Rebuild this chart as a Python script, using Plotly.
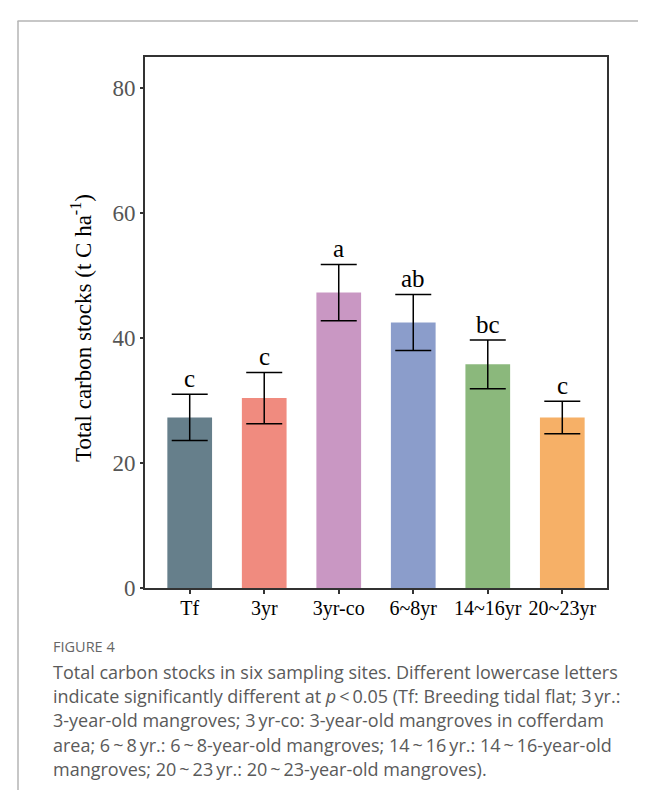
import plotly.graph_objects as go

categories = ["Tf", "3yr", "3yr-co", "6~8yr", "14~16yr", "20~23yr"]
means = [27.3, 30.4, 47.3, 42.5, 35.8, 27.3]
errors = [3.7, 4.1, 4.5, 4.5, 3.9, 2.6]
letters = ["c", "c", "a", "ab", "bc", "c"]
colors = ["#667f8b", "#f08b7f", "#c997c3", "#8b9dcb", "#8bb87c", "#f6b067"]
y_ticks = [0, 20, 40, 60, 80]

caption_title = "FIGURE 4"
caption_lines = [
    "Total carbon stocks in six sampling sites. Different lowercase letters",
    "indicate significantly different at <i>p</i>\u2009<\u20090.05 (Tf: Breeding tidal flat; 3\u2009yr.:",
    "3-year-old mangroves; 3\u2009yr-co: 3-year-old mangroves in cofferdam",
    "area; 6\u2009~\u20098\u2009yr.: 6\u2009~\u20098-year-old mangroves; 14\u2009~\u200916\u2009yr.: 14\u2009~\u200916-year-old",
    "mangroves; 20\u2009~\u200923\u2009yr.: 20\u2009~\u200923-year-old mangroves).",
]

W, H = 646, 790
L, R, T, B = 137, 599, 49, 580

def px(x):
    return (x - L) / (R - L)

def py(y):
    return (B - y) / (B - T)

fig = go.Figure()
fig.add_trace(go.Bar(
    x=categories, y=means, width=0.6,
    marker=dict(color=colors, line=dict(width=0)),
    error_y=dict(type="data", array=errors, visible=True,
                 color="black", thickness=1.5, width=18),
    showlegend=False,
))

for c, m, e, t in zip(categories, means, errors, letters):
    fig.add_annotation(x=c, y=m + e, text=t, showarrow=False,
                       yanchor="bottom", yshift=0,
                       font=dict(family="Liberation Serif", size=25, color="black"))

fig.add_annotation(xref="paper", yref="paper", x=px(73), y=py(320),
                   text="Total carbon stocks (t C ha<sup>-1</sup>)", textangle=-90,
                   showarrow=False, xanchor="center", yanchor="middle",
                   font=dict(family="Liberation Serif", size=23, color="black"))

x_cap = 43
fig.add_annotation(xref="paper", yref="paper", x=px(x_cap), y=py(638),
                   text=caption_title, showarrow=False, xanchor="left", yanchor="middle",
                   font=dict(family="Open Sans", size=14.5, color="#666666"))
for i, line in enumerate(caption_lines):
    fig.add_annotation(xref="paper", yref="paper", x=px(x_cap), y=py(664 + 24.2 * i),
                       text=line, showarrow=False, xanchor="left", yanchor="middle",
                       font=dict(family="Open Sans", size=18, color="#5a5a5a"))

# page frame lines
fig.add_shape(type="line", xref="paper", yref="paper",
              x0=px(9.5), x1=px(646), y0=py(13), y1=py(13),
              line=dict(color="#b5b5b5", width=1.5))
fig.add_shape(type="line", xref="paper", yref="paper",
              x0=px(10), x1=px(10), y0=py(13), y1=py(790),
              line=dict(color="#b5b5b5", width=1.5))

fig.update_layout(
    width=W, height=H,
    margin=dict(l=L, r=W - R, t=T, b=H - B),
    plot_bgcolor="white", paper_bgcolor="white",
    bargap=0.4,
)
fig.update_xaxes(
    type="category", range=[-0.6, 5.6],
    showline=True, mirror=True, linecolor="#333333", linewidth=2,
    ticks="outside", ticklen=4, tickcolor="#333333", tickwidth=1.5,
    ticklabelstandoff=-3,
    tickfont=dict(family="Liberation Serif", size=20, color="black"),
    showgrid=False,
)
fig.update_yaxes(
    range=[0, 85], tickvals=y_ticks,
    showline=True, mirror=True, linecolor="#333333", linewidth=2,
    ticks="outside", ticklen=3, tickcolor="#333333", tickwidth=1.5,
    tickfont=dict(family="Liberation Serif", size=23, color="#555555"),
    showgrid=False, zeroline=False,
)

fig.write_html("out.html")
